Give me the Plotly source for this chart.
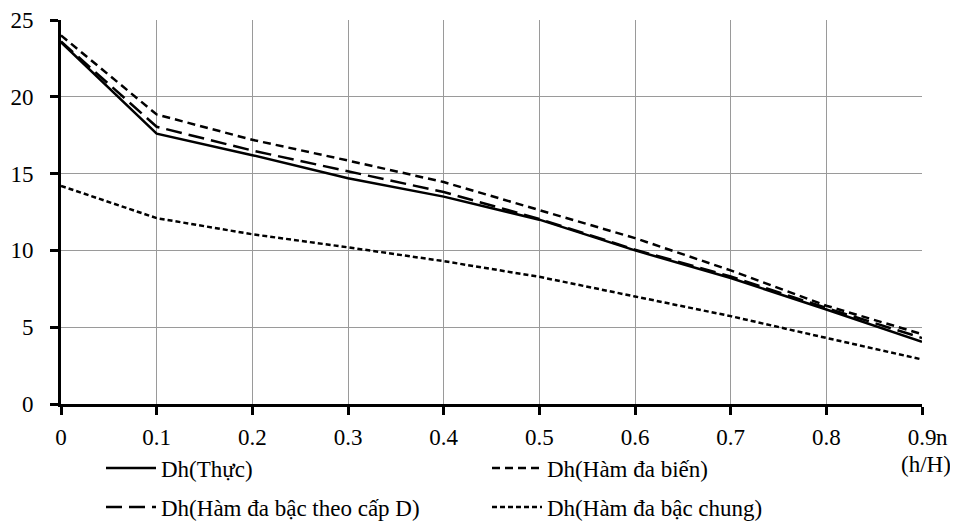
import plotly.graph_objects as go

x_vals = [0, 0.1, 0.2, 0.3, 0.4, 0.5, 0.6, 0.7, 0.8, 0.9]
x_labels = ["0", "0.1", "0.2", "0.3", "0.4", "0.5", "0.6", "0.7", "0.8", "0.9"]
dh_thuc = [23.55, 17.6, 16.2, 14.7, 13.5, 12.0, 10.0, 8.2, 6.15, 4.05]
dh_da_bien = [24.0, 18.85, 17.2, 15.85, 14.45, 12.6, 10.8, 8.7, 6.4, 4.55]
dh_cap_d = [23.6, 18.05, 16.5, 15.15, 13.8, 12.05, 10.05, 8.3, 6.25, 4.3]
dh_chung = [14.2, 12.1, 11.05, 10.2, 9.3, 8.28, 7.0, 5.72, 4.3, 2.9]
y_ticks = [0, 5, 10, 15, 20, 25]

names = ["Dh(Thực)", "Dh(Hàm đa biến)", "Dh(Hàm đa bậc theo cấp D)", "Dh(Hàm đa bậc chung)"]
series = [dh_thuc, dh_da_bien, dh_cap_d, dh_chung]
dashes = ["solid", "8px,5px", "16px,7px", "5px,3px"]
legend_ids = ["legend", "legend2", "legend3", "legend4"]

FONT = "Liberation Serif, Times New Roman, serif"
FS = 23

# figure is drawn inside the page body (8px default margin), so size it to fit
W, H = 950, 513
L, T = 53, 12
PW, PH = 861, 384
R = W - L - PW
B = H - T - PH

fig = go.Figure()
for n, s, d, lg in zip(names, series, dashes, legend_ids):
    fig.add_trace(go.Scatter(x=x_vals, y=s, name=n, mode="lines", legend=lg,
                             line=dict(color="black", width=2.5, dash=d)))

# legend positions (figure px): left edge, row centre
leg_pos = [(93, 460), (479, 460), (93, 499), (479, 499)]
legends = {}
for lg, (lx, ly) in zip(legend_ids, leg_pos):
    legends[lg] = dict(orientation="h", xref="container", yref="container",
                       x=lx / W, xanchor="left", y=1 - ly / H, yanchor="middle",
                       itemwidth=50, font=dict(family=FONT, size=FS, color="black"),
                       bgcolor="rgba(0,0,0,0)")

fig.update_layout(
    width=W, height=H,
    margin=dict(l=L, r=R, t=T, b=B),
    paper_bgcolor="white", plot_bgcolor="white",
    font=dict(family=FONT, size=FS, color="black"),
    showlegend=True,
    xaxis=dict(range=[0, 0.9], tickvals=x_vals, ticktext=x_labels,
               showgrid=True, gridcolor="#9a9a9a", gridwidth=1.2,
               showline=True, linecolor="black", linewidth=3,
               ticks="outside", ticklen=8, tickwidth=3, tickcolor="black",
               ticklabelstandoff=2, zeroline=False, fixedrange=True,
               automargin=False),
    yaxis=dict(range=[0, 25], tickvals=y_ticks,
               showgrid=True, gridcolor="#9a9a9a", gridwidth=1.2,
               showline=True, linecolor="black", linewidth=3,
               ticks="outside", ticklen=8, tickwidth=3, tickcolor="black",
               ticklabelstandoff=12, zeroline=False, fixedrange=True,
               automargin=False),
    annotations=[
        dict(text="n", xref="paper", yref="paper", x=(926 - L) / PW, y=(PH + T - 429) / PH,
             xanchor="left", yanchor="middle", showarrow=False,
             font=dict(family=FONT, size=FS, color="black")),
        dict(text="(h/H)", xref="paper", yref="paper", x=(945 - L) / PW, y=(PH + T - 456) / PH,
             xanchor="right", yanchor="middle", showarrow=False,
             font=dict(family=FONT, size=FS, color="black")),
    ],
    **legends,
)

fig.write_html("out.html")
